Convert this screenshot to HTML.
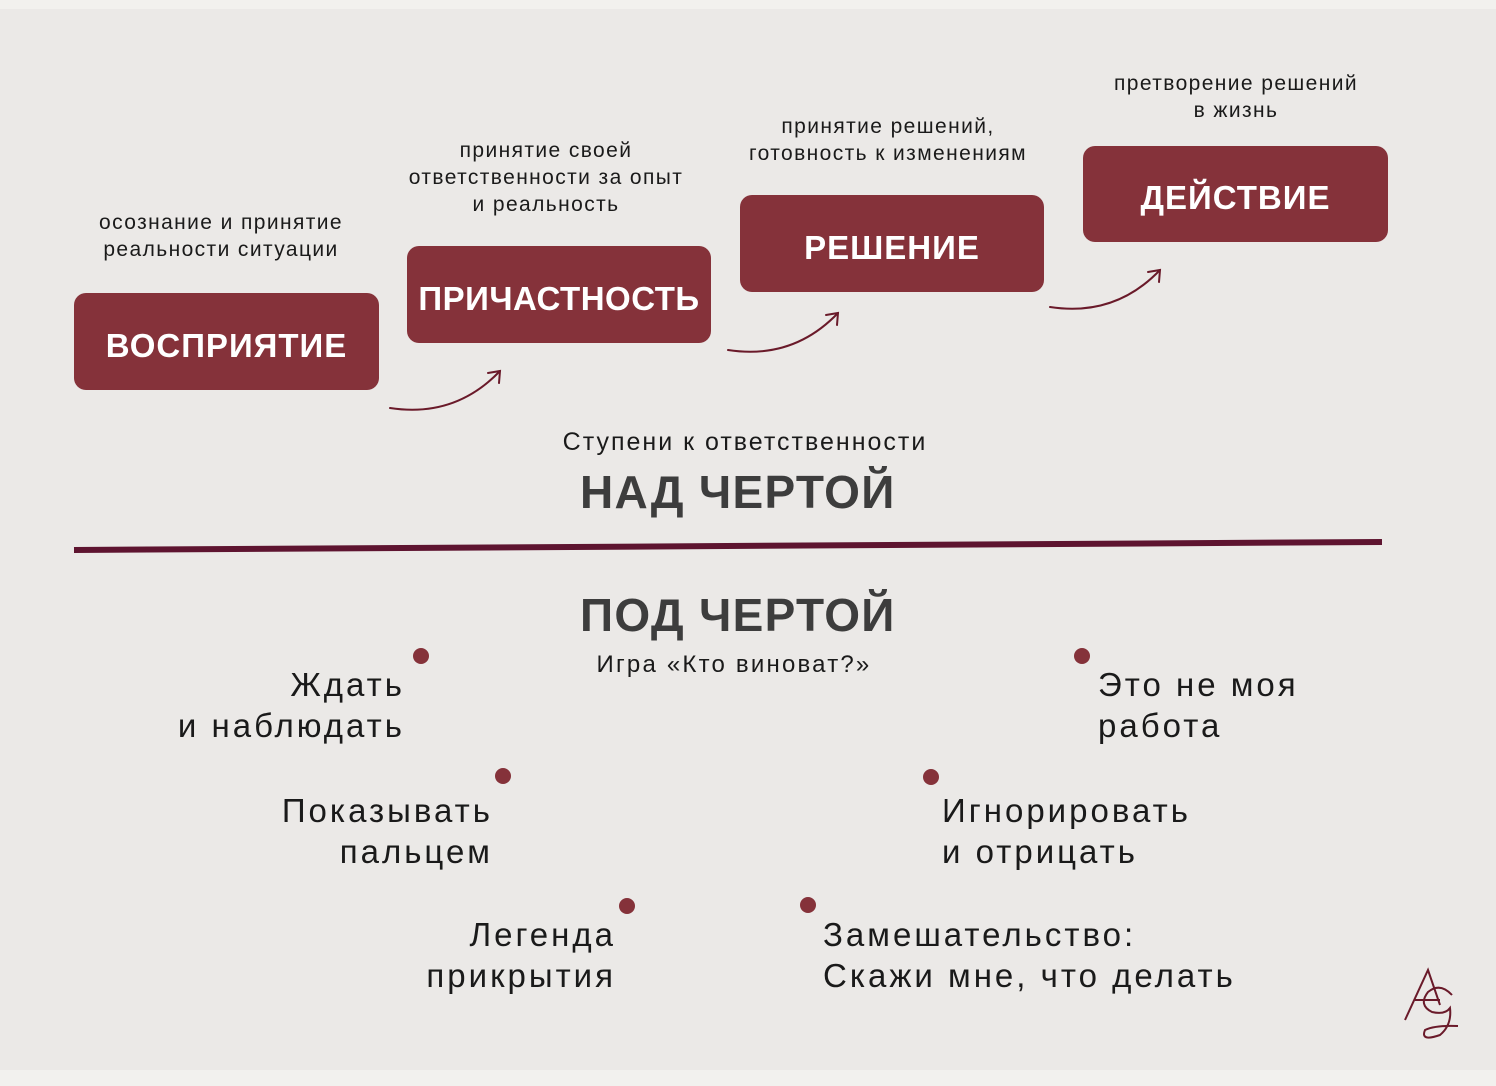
<!DOCTYPE html>
<html><head><meta charset="utf-8"><style>
body{margin:0;width:1496px;height:1086px;background:#f2f1ee;position:relative;overflow:hidden;font-family:"Liberation Sans",sans-serif;color:#1a1a1a}
.bg{position:absolute;left:0;top:9px;width:1496px;height:1061px;background:#ebe9e7}
.box{position:absolute;background:#85323a;border-radius:12px;color:#fff;font-weight:bold;font-size:33px;display:flex;align-items:center;justify-content:center;letter-spacing:1px;box-sizing:border-box;padding-top:8px}
.cap{position:absolute;text-align:center;font-size:21px;line-height:27px;letter-spacing:1.4px;white-space:nowrap}
.t{position:absolute;font-size:33px;line-height:41px;letter-spacing:3px;white-space:nowrap}
.r{text-align:right}
.dot{position:absolute;width:16px;height:16px;border-radius:50%;background:#85323a}
.h{position:absolute;font-weight:bold;font-size:46px;color:#3d3d3d;white-space:nowrap;letter-spacing:1.3px}
</style></head><body>
<div class="bg"></div>
<div class="box" style="left:74px;top:293px;width:305px;height:97px">ВОСПРИЯТИЕ</div>
<div class="box" style="left:407px;top:246px;width:304px;height:97px;letter-spacing:0.5px">ПРИЧАСТНОСТЬ</div>
<div class="box" style="left:740px;top:195px;width:304px;height:97px">РЕШЕНИЕ</div>
<div class="box" style="left:1083px;top:146px;width:305px;height:96px">ДЕЙСТВИЕ</div>
<div class="cap" style="left:71px;width:300px;top:209px">осознание и принятие<br>реальности ситуации</div>
<div class="cap" style="left:396px;width:300px;top:137px">принятие своей<br>ответственности за опыт<br>и реальность</div>
<div class="cap" style="left:728px;width:320px;top:113px">принятие решений,<br>готовность к изменениям</div>
<div class="cap" style="left:1086px;width:300px;top:70px">претворение решений<br>в жизнь</div>
<svg style="position:absolute;left:0;top:0" width="1496" height="1086">
<g fill="none" stroke="#6a1a2a" stroke-width="2" stroke-linecap="round">
<path d="M390 408 Q455 418 500 371"/><path d="M488 373 L500 371 L499 383"/>
<path d="M728 350 Q793 360 838 313"/><path d="M826 315 L838 313 L837 325"/>
<path d="M1050 307 Q1115 317 1160 270"/><path d="M1148 272 L1160 270 L1159 282"/>
</g>
<line x1="74" y1="550" x2="1382" y2="542" stroke="#5e1430" stroke-width="6"/>
<g fill="none" stroke="#6a1a2a" stroke-width="2">
<path d="M1405 1020 L1428 970 L1440 1005"/><path d="M1415 1000 L1440 1000"/>
<path d="M1452 995 Q1440 982 1428 992 Q1418 1005 1432 1012 Q1445 1015 1450 1008 Q1452 1025 1440 1035 Q1420 1042 1425 1030 Q1435 1025 1458 1026"/>
</g>
</svg>
<div class="cap" style="left:495px;width:500px;top:427px;font-size:25px;line-height:30px;letter-spacing:2px">Ступени к ответственности</div>
<div class="h" style="left:580px;top:465px">НАД ЧЕРТОЙ</div>
<div class="h" style="left:580px;top:588px">ПОД ЧЕРТОЙ</div>
<div class="cap" style="left:534px;width:400px;top:651px;font-size:24px;letter-spacing:2.2px">Игра «Кто виноват?»</div>
<div class="dot" style="left:413px;top:648px"></div>
<div class="dot" style="left:495px;top:768px"></div>
<div class="dot" style="left:619px;top:898px"></div>
<div class="dot" style="left:1074px;top:648px"></div>
<div class="dot" style="left:923px;top:769px"></div>
<div class="dot" style="left:800px;top:897px"></div>
<div class="t r" style="right:1091px;top:664px">Ждать<br>и наблюдать</div>
<div class="t r" style="right:1003px;top:790px">Показывать<br>пальцем</div>
<div class="t r" style="right:880px;top:914px">Легенда<br>прикрытия</div>
<div class="t" style="left:1098px;top:664px">Это не моя<br>работа</div>
<div class="t" style="left:942px;top:790px">Игнорировать<br>и отрицать</div>
<div class="t" style="left:823px;top:914px">Замешательство:<br>Скажи мне, что делать</div>
</body></html>
